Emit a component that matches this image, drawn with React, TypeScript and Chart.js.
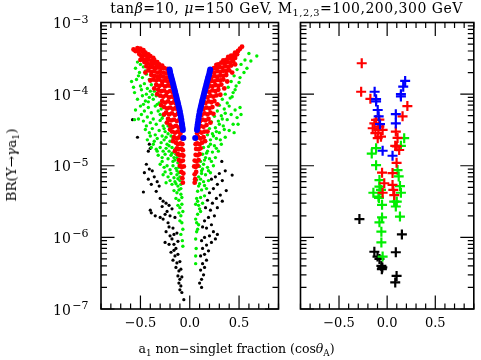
import React, { useEffect, useRef } from 'react';
import { Chart, registerables } from 'chart.js';
Chart.register(...registerables);

type P = [number, number];

// ---------- axis settings ----------
const X_MIN = -0.9;
const X_MAX = 0.9;
const Y_MIN = 1e-7;
const Y_MAX = 1e-3;
const xLabelTicks = [-0.5, 0, 0.5];
const xMinorTicks = [-0.9, -0.8, -0.7, -0.6, -0.5, -0.4, -0.3, -0.2, -0.1, 0, 0.1, 0.2, 0.3, 0.4, 0.5, 0.6, 0.7, 0.8, 0.9];
const yDecades = [1e-7, 1e-6, 1e-5, 1e-4, 1e-3];
const yDecadeExp = ['−7', '−6', '−5', '−4', '−3'];
const yMinorMult = [2, 3, 4, 5, 6, 7, 8, 9];

// ---------- left panel (scan points) ----------
const redLeft: P[] = [
  [-0.53, 4.4e-4], [-0.50, 4.3e-4], [-0.47, 4.1e-4],
  [-0.55, 4.0e-4], [-0.52, 3.9e-4], [-0.48, 3.9e-4], [-0.45, 3.8e-4], [-0.42, 3.6e-4],
  [-0.51, 3.6e-4], [-0.49, 3.4e-4], [-0.46, 3.5e-4], [-0.43, 3.3e-4], [-0.40, 3.4e-4], [-0.37, 3.2e-4],
  [-0.48, 3.1e-4], [-0.45, 3.0e-4], [-0.42, 3.1e-4], [-0.39, 2.9e-4], [-0.36, 3.0e-4], [-0.33, 2.8e-4],
  [-0.46, 2.8e-4], [-0.43, 2.7e-4], [-0.40, 2.6e-4], [-0.37, 2.7e-4], [-0.34, 2.6e-4], [-0.31, 2.6e-4], [-0.28, 2.5e-4],
  [-0.44, 2.45e-4], [-0.41, 2.35e-4], [-0.38, 2.4e-4], [-0.35, 2.3e-4], [-0.32, 2.35e-4], [-0.29, 2.3e-4], [-0.26, 2.3e-4], [-0.23, 2.25e-4],
  [-0.42, 2.15e-4], [-0.39, 2.05e-4], [-0.36, 2.1e-4], [-0.33, 2.0e-4], [-0.30, 2.05e-4], [-0.27, 2.0e-4], [-0.24, 1.95e-4], [-0.215, 2.0e-4],
  [-0.39, 1.85e-4], [-0.36, 1.8e-4], [-0.33, 1.75e-4], [-0.30, 1.8e-4], [-0.27, 1.75e-4], [-0.24, 1.7e-4], [-0.21, 1.72e-4],
  [-0.37, 1.6e-4], [-0.34, 1.55e-4], [-0.31, 1.6e-4], [-0.28, 1.5e-4], [-0.25, 1.55e-4], [-0.22, 1.5e-4], [-0.195, 1.5e-4],
  [-0.34, 1.35e-4], [-0.31, 1.3e-4], [-0.28, 1.35e-4], [-0.25, 1.28e-4], [-0.22, 1.32e-4], [-0.19, 1.3e-4], [-0.175, 1.25e-4],
  [-0.32, 1.15e-4], [-0.29, 1.1e-4], [-0.26, 1.12e-4], [-0.23, 1.06e-4], [-0.20, 1.1e-4], [-0.17, 1.05e-4],
  [-0.30, 9.5e-5], [-0.27, 9.2e-5], [-0.24, 9.6e-5], [-0.21, 9.0e-5], [-0.18, 9.2e-5], [-0.155, 8.8e-5],
  [-0.28, 8.0e-5], [-0.25, 7.6e-5], [-0.22, 7.9e-5], [-0.19, 7.5e-5], [-0.16, 7.7e-5], [-0.14, 7.4e-5],
  [-0.26, 6.6e-5], [-0.23, 6.3e-5], [-0.20, 6.5e-5], [-0.17, 6.2e-5], [-0.14, 6.4e-5], [-0.125, 6.1e-5],
  [-0.24, 5.5e-5], [-0.21, 5.2e-5], [-0.18, 5.4e-5], [-0.15, 5.1e-5], [-0.12, 5.3e-5],
  [-0.22, 4.5e-5], [-0.19, 4.3e-5], [-0.16, 4.4e-5], [-0.13, 4.2e-5], [-0.105, 4.4e-5],
  [-0.20, 3.7e-5], [-0.17, 3.5e-5], [-0.14, 3.6e-5], [-0.11, 3.4e-5], [-0.09, 3.6e-5],
  [-0.18, 3.0e-5], [-0.15, 2.9e-5], [-0.12, 3.0e-5], [-0.095, 2.8e-5],
  [-0.16, 2.5e-5], [-0.13, 2.4e-5], [-0.105, 2.5e-5], [-0.08, 2.4e-5],
  [-0.14, 2.1e-5], [-0.12, 2.0e-5], [-0.095, 2.05e-5], [-0.075, 2.0e-5],
  [-0.13, 1.75e-5], [-0.11, 1.7e-5], [-0.085, 1.72e-5], [-0.07, 1.65e-5],
  [-0.12, 1.45e-5], [-0.10, 1.4e-5], [-0.08, 1.42e-5], [-0.065, 1.38e-5],
  [-0.11, 1.2e-5], [-0.09, 1.15e-5], [-0.07, 1.18e-5],
  [-0.10, 1.0e-5], [-0.08, 9.6e-6], [-0.06, 9.8e-6],
  [-0.085, 8.2e-6], [-0.065, 7.8e-6],
  [-0.075, 6.7e-6], [-0.07, 5.8e-6],
  [-0.45, 2.0e-4], [-0.40, 1.55e-4], [-0.36, 1.2e-4], [-0.33, 1.0e-4], [-0.29, 7.0e-5], [-0.26, 5.2e-5],
  [-0.23, 4.0e-5], [-0.20, 3.2e-5], [-0.17, 2.2e-5], [-0.15, 1.6e-5], [-0.57, 4.2e-4], [-0.50, 3.0e-4],
];

const redRight: P[] = [
  [0.53, 4.6e-4], [0.51, 4.3e-4],
  [0.49, 4.0e-4], [0.46, 3.8e-4],
  [0.48, 3.6e-4], [0.45, 3.5e-4], [0.42, 3.45e-4], [0.39, 3.3e-4],
  [0.46, 3.2e-4], [0.43, 3.1e-4], [0.40, 3.15e-4], [0.37, 3.0e-4], [0.34, 2.95e-4],
  [0.44, 2.85e-4], [0.41, 2.75e-4], [0.38, 2.8e-4], [0.35, 2.7e-4], [0.32, 2.75e-4], [0.29, 2.6e-4], [0.27, 2.55e-4],
  [0.42, 2.5e-4], [0.39, 2.4e-4], [0.36, 2.45e-4], [0.33, 2.35e-4], [0.30, 2.4e-4], [0.27, 2.3e-4], [0.245, 2.3e-4],
  [0.40, 2.15e-4], [0.37, 2.1e-4], [0.34, 2.12e-4], [0.31, 2.05e-4], [0.28, 2.1e-4], [0.25, 2.0e-4], [0.225, 2.02e-4],
  [0.37, 1.85e-4], [0.34, 1.8e-4], [0.31, 1.82e-4], [0.28, 1.75e-4], [0.25, 1.78e-4], [0.22, 1.72e-4],
  [0.34, 1.6e-4], [0.31, 1.55e-4], [0.28, 1.58e-4], [0.25, 1.5e-4], [0.22, 1.53e-4], [0.20, 1.5e-4],
  [0.32, 1.36e-4], [0.29, 1.3e-4], [0.26, 1.34e-4], [0.23, 1.28e-4], [0.20, 1.31e-4], [0.185, 1.26e-4],
  [0.29, 1.15e-4], [0.26, 1.1e-4], [0.23, 1.13e-4], [0.20, 1.07e-4], [0.175, 1.1e-4],
  [0.27, 9.6e-5], [0.24, 9.2e-5], [0.21, 9.5e-5], [0.18, 9.0e-5], [0.16, 9.2e-5],
  [0.25, 8.0e-5], [0.22, 7.7e-5], [0.19, 7.9e-5], [0.16, 7.5e-5], [0.145, 7.7e-5],
  [0.23, 6.6e-5], [0.20, 6.3e-5], [0.17, 6.5e-5], [0.14, 6.2e-5], [0.13, 6.4e-5],
  [0.21, 5.5e-5], [0.18, 5.2e-5], [0.15, 5.4e-5], [0.12, 5.1e-5],
  [0.19, 4.5e-5], [0.16, 4.3e-5], [0.13, 4.4e-5], [0.105, 4.2e-5],
  [0.17, 3.7e-5], [0.14, 3.5e-5], [0.11, 3.6e-5], [0.09, 3.4e-5],
  [0.15, 3.0e-5], [0.12, 2.9e-5], [0.095, 3.0e-5], [0.075, 2.85e-5],
  [0.14, 2.5e-5], [0.11, 2.4e-5], [0.085, 2.5e-5], [0.065, 2.4e-5],
  [0.125, 2.1e-5], [0.10, 2.0e-5], [0.075, 2.05e-5], [0.06, 2.0e-5],
  [0.11, 1.75e-5], [0.09, 1.7e-5], [0.065, 1.72e-5],
  [0.10, 1.45e-5], [0.08, 1.4e-5], [0.06, 1.42e-5],
  [0.09, 1.2e-5], [0.07, 1.15e-5], [0.05, 1.18e-5],
  [0.08, 1.0e-5], [0.06, 9.6e-6], [0.045, 9.8e-6],
  [0.065, 8.2e-6], [0.05, 7.6e-6],
  [0.055, 6.5e-6], [0.05, 5.8e-6],
  [0.46, 2.6e-4], [0.43, 2.0e-4], [0.38, 1.5e-4], [0.35, 1.2e-4], [0.31, 9.8e-5], [0.28, 7.2e-5],
  [0.24, 5.3e-5], [0.21, 4.0e-5], [0.18, 3.0e-5], [0.155, 2.2e-5],
];

const blueLeft: P[] = [
  [-0.205, 2.2e-4], [-0.2, 2.05e-4], [-0.195, 1.9e-4], [-0.19, 1.78e-4], [-0.184, 1.66e-4], [-0.178, 1.55e-4],
  [-0.172, 1.44e-4], [-0.166, 1.34e-4], [-0.16, 1.24e-4], [-0.154, 1.15e-4], [-0.148, 1.07e-4], [-0.142, 9.9e-5],
  [-0.136, 9.2e-5], [-0.13, 8.5e-5], [-0.124, 7.9e-5], [-0.118, 7.3e-5], [-0.112, 6.7e-5], [-0.106, 6.2e-5],
  [-0.1, 5.7e-5], [-0.095, 5.2e-5], [-0.09, 4.8e-5], [-0.085, 4.4e-5], [-0.081, 4.0e-5], [-0.077, 3.7e-5],
  [-0.073, 3.4e-5], [-0.07, 3.15e-5], [-0.065, 2.45e-5],
];

const blueRight: P[] = [
  [0.207, 2.2e-4], [0.202, 2.05e-4], [0.197, 1.9e-4], [0.191, 1.78e-4], [0.185, 1.66e-4], [0.179, 1.55e-4],
  [0.173, 1.44e-4], [0.167, 1.34e-4], [0.161, 1.24e-4], [0.155, 1.15e-4], [0.149, 1.07e-4], [0.143, 9.9e-5],
  [0.137, 9.2e-5], [0.131, 8.5e-5], [0.125, 7.9e-5], [0.119, 7.3e-5], [0.113, 6.7e-5], [0.107, 6.2e-5],
  [0.101, 5.7e-5], [0.096, 5.2e-5], [0.091, 4.8e-5], [0.087, 4.4e-5], [0.083, 4.0e-5], [0.079, 3.7e-5],
  [0.076, 3.4e-5], [0.073, 3.15e-5], [0.055, 2.45e-5],
];

const greenLeft: P[] = [
  [-0.53, 2.8e-4], [-0.50, 2.6e-4], [-0.47, 2.4e-4], [-0.55, 2.3e-4], [-0.45, 2.1e-4], [-0.59, 1.5e-4],
  [-0.52, 1.8e-4], [-0.48, 1.7e-4], [-0.44, 1.9e-4], [-0.41, 1.6e-4], [-0.56, 1.05e-4], [-0.50, 1.3e-4],
  [-0.46, 1.4e-4], [-0.43, 1.2e-4], [-0.39, 1.35e-4], [-0.36, 1.1e-4], [-0.53, 8.5e-5], [-0.48, 9.5e-5],
  [-0.45, 8e-5], [-0.41, 9e-5], [-0.37, 8.5e-5], [-0.34, 9.5e-5], [-0.31, 7.5e-5], [-0.55, 6e-5],
  [-0.50, 6.8e-5], [-0.46, 5.8e-5], [-0.42, 6.5e-5], [-0.39, 5.5e-5], [-0.35, 6.8e-5], [-0.32, 5.8e-5],
  [-0.29, 6.2e-5], [-0.27, 5e-5],
  [-0.52, 4.5e-5], [-0.47, 4.2e-5], [-0.43, 4.8e-5], [-0.40, 4e-5], [-0.37, 4.5e-5], [-0.34, 3.8e-5],
  [-0.30, 4.3e-5], [-0.27, 3.6e-5], [-0.24, 4e-5], [-0.45, 3.2e-5], [-0.41, 2.9e-5], [-0.38, 3.3e-5],
  [-0.35, 2.7e-5], [-0.31, 3.1e-5], [-0.28, 2.6e-5], [-0.25, 3e-5], [-0.22, 2.8e-5], [-0.20, 3.4e-5],
  [-0.43, 2.3e-5], [-0.36, 2.2e-5], [-0.33, 2.4e-5], [-0.29, 2.1e-5], [-0.26, 2.3e-5], [-0.23, 2.0e-5],
  [-0.20, 2.2e-5], [-0.17, 2.4e-5], [-0.39, 1.8e-5], [-0.34, 1.7e-5], [-0.30, 1.8e-5], [-0.27, 1.6e-5],
  [-0.24, 1.75e-5], [-0.21, 1.6e-5], [-0.18, 1.8e-5], [-0.15, 1.7e-5], [-0.32, 1.4e-5], [-0.28, 1.3e-5],
  [-0.25, 1.45e-5], [-0.22, 1.25e-5], [-0.19, 1.4e-5], [-0.16, 1.3e-5], [-0.14, 1.45e-5],
  [-0.30, 1.05e-5], [-0.26, 9.5e-6], [-0.23, 1.0e-5], [-0.20, 8.8e-6], [-0.17, 1.0e-5], [-0.14, 9.2e-6],
  [-0.12, 1.1e-5], [-0.27, 7.5e-6], [-0.22, 7e-6], [-0.19, 7.8e-6], [-0.16, 6.8e-6], [-0.13, 7.5e-6],
  [-0.11, 8e-6], [-0.24, 5.8e-6], [-0.18, 5.5e-6], [-0.15, 6e-6], [-0.12, 5.2e-6], [-0.10, 6.2e-6],
  [-0.16, 4.5e-6], [-0.13, 4.2e-6], [-0.11, 4.6e-6], [-0.09, 4e-6], [-0.14, 3.5e-6], [-0.11, 3.3e-6],
  [-0.08, 3.6e-6], [-0.12, 2.8e-6], [-0.10, 2.6e-6], [-0.08, 2.9e-6], [-0.11, 2.2e-6], [-0.09, 2.0e-6],
  [-0.07, 2.3e-6], [-0.10, 1.7e-6], [-0.08, 1.6e-6], [-0.07, 1.3e-6], [-0.09, 1.1e-6], [-0.075, 9e-7],
  [-0.07, 7.5e-7],
  [-0.57, 1.25e-4], [-0.54, 1.6e-4], [-0.51, 2.0e-4], [-0.49, 1.15e-4], [-0.47, 7.2e-5], [-0.44, 1.0e-4],
  [-0.42, 7.8e-5], [-0.40, 1.1e-4], [-0.38, 9.8e-5], [-0.33, 7.2e-5], [-0.30, 5.2e-5], [-0.28, 4.6e-5],
  [-0.26, 3.3e-5], [-0.24, 2.5e-5], [-0.22, 3.6e-5], [-0.19, 2.6e-5], [-0.21, 1.9e-5], [-0.18, 1.5e-5],
  [-0.17, 1.15e-5], [-0.15, 1.2e-5], [-0.13, 1.3e-5], [-0.13, 8.5e-6], [-0.11, 9.5e-6], [-0.10, 7e-6],
  [-0.09, 5.5e-6], [-0.09, 4.8e-6], [-0.14, 5.6e-6], [-0.12, 6.6e-6], [-0.20, 6.2e-6], [-0.25, 8.2e-6],
  [-0.28, 1.15e-5], [-0.33, 1.6e-5], [-0.37, 2.0e-5], [-0.40, 2.6e-5], [-0.44, 3.6e-5], [-0.49, 5.2e-5],
  [-0.56, 4.4e-5],
];

const greenRight: P[] = [
  [0.68, 3.4e-4], [0.60, 3.7e-4], [0.56, 3.0e-4], [0.58, 2.3e-4], [0.52, 2.6e-4], [0.48, 2.2e-4],
  [0.45, 1.8e-4], [0.51, 1.7e-4], [0.42, 1.5e-4], [0.47, 1.3e-4], [0.39, 1.25e-4], [0.44, 1.05e-4],
  [0.36, 1.0e-4], [0.41, 8.8e-5], [0.33, 8.5e-5], [0.38, 7.5e-5], [0.30, 7e-5], [0.51, 6.5e-5],
  [0.46, 6e-5], [0.35, 6.2e-5], [0.28, 5.8e-5], [0.42, 5.2e-5], [0.48, 4.7e-5], [0.32, 5e-5],
  [0.25, 4.9e-5], [0.38, 4.4e-5], [0.29, 4.2e-5], [0.22, 4.1e-5], [0.44, 3.8e-5], [0.34, 3.6e-5],
  [0.26, 3.4e-5], [0.20, 3.3e-5], [0.40, 3.1e-5], [0.30, 2.9e-5], [0.23, 2.8e-5], [0.18, 2.7e-5],
  [0.36, 2.5e-5], [0.27, 2.4e-5], [0.21, 2.3e-5], [0.16, 2.2e-5], [0.32, 2.0e-5], [0.25, 1.9e-5],
  [0.19, 1.85e-5], [0.14, 1.8e-5], [0.29, 1.6e-5], [0.23, 1.55e-5], [0.17, 1.5e-5], [0.13, 1.45e-5],
  [0.26, 1.3e-5], [0.20, 1.25e-5], [0.15, 1.2e-5], [0.11, 1.15e-5],
  [0.24, 1.0e-5], [0.18, 9.5e-6], [0.13, 9e-6], [0.10, 9.8e-6], [0.21, 8e-6], [0.16, 7.5e-6],
  [0.12, 7.8e-6], [0.09, 7e-6], [0.19, 6.2e-6], [0.14, 6e-6], [0.10, 5.6e-6], [0.07, 6.3e-6],
  [0.17, 4.8e-6], [0.12, 4.6e-6], [0.08, 4.4e-6], [0.15, 3.8e-6], [0.11, 3.6e-6], [0.07, 3.5e-6],
  [0.13, 3.0e-6], [0.09, 2.8e-6], [0.06, 2.9e-6], [0.11, 2.3e-6], [0.08, 2.1e-6], [0.06, 1.8e-6],
  [0.09, 1.5e-6], [0.07, 1.2e-6], [0.06, 9.5e-7], [0.065, 7e-7], [0.06, 5.5e-7], [0.06, 4.3e-7],
  [0.62, 2.9e-4], [0.55, 2.0e-4], [0.50, 1.45e-4], [0.46, 1.15e-4], [0.43, 9.2e-5], [0.40, 6.8e-5],
  [0.36, 5.4e-5], [0.33, 4.5e-5], [0.30, 3.8e-5], [0.27, 3.0e-5], [0.24, 2.6e-5], [0.21, 2.0e-5],
  [0.18, 1.6e-5], [0.16, 1.3e-5], [0.14, 1.05e-5], [0.12, 8.5e-6], [0.11, 6.5e-6], [0.09, 5.2e-6],
  [0.08, 3.2e-6], [0.10, 2.5e-6], [0.07, 1.6e-6], [0.08, 1.3e-6], [0.22, 1.15e-5], [0.27, 1.75e-5],
  [0.31, 2.3e-5], [0.35, 3.2e-5], [0.52, 5.2e-5], [0.49, 3.8e-5], [0.45, 2.9e-5], [0.15, 5.3e-6],
  [0.19, 8.5e-6],
];

const blackLeft: P[] = [
  [-0.58, 4.4e-5], [-0.53, 2.5e-5], [-0.41, 2.0e-5], [-0.42, 1.6e-5], [-0.40, 1.75e-5],
  [-0.44, 1.05e-5], [-0.41, 9e-6], [-0.46, 8e-6], [-0.38, 8.5e-6], [-0.36, 7e-6], [-0.42, 6.5e-6],
  [-0.33, 6e-6], [-0.39, 5.5e-6], [-0.31, 5.2e-6], [-0.47, 4.3e-6],
  [-0.30, 3.5e-6], [-0.27, 3.2e-6], [-0.24, 3.0e-6], [-0.21, 2.8e-6], [-0.18, 2.5e-6], [-0.23, 2.3e-6],
  [-0.25, 2.1e-6], [-0.20, 2.0e-6], [-0.15, 1.9e-6], [-0.40, 2.4e-6], [-0.39, 2.2e-6], [-0.35, 2.0e-6],
  [-0.30, 1.9e-6], [-0.27, 1.8e-6],
  [-0.21, 1.4e-6], [-0.17, 1.35e-6], [-0.24, 1.2e-6], [-0.20, 1.05e-6], [-0.16, 1.1e-6], [-0.13, 1.15e-6],
  [-0.25, 8.5e-7], [-0.21, 8e-7], [-0.16, 8e-7], [-0.14, 7e-7], [-0.19, 6.2e-7], [-0.15, 5.5e-7],
  [-0.12, 5.8e-7], [-0.17, 4.8e-7], [-0.13, 4.4e-7], [-0.10, 4.6e-7], [-0.14, 3.8e-7], [-0.11, 3.4e-7],
  [-0.09, 3.6e-7], [-0.12, 2.9e-7], [-0.10, 2.6e-7], [-0.08, 2.8e-7], [-0.11, 2.3e-7], [-0.09, 2.1e-7],
  [-0.10, 1.85e-7], [-0.08, 1.7e-7], [-0.06, 1.35e-7],
  [-0.34, 4.4e-6], [-0.28, 2.7e-6], [-0.22, 1.6e-6], [-0.18, 9.5e-7], [-0.12, 8.8e-7], [-0.16, 6.6e-7],
];

const blackRight: P[] = [
  [0.325, 1.15e-5], [0.43, 7.4e-6], [0.36, 8.5e-6], [0.30, 7.8e-6], [0.26, 7e-6], [0.33, 6.2e-6],
  [0.22, 6.5e-6], [0.28, 5.5e-6], [0.37, 4.5e-6], [0.24, 4.8e-6], [0.31, 3.9e-6], [0.20, 4.2e-6],
  [0.27, 3.5e-6], [0.33, 3.2e-6], [0.23, 3.0e-6], [0.18, 3.3e-6], [0.28, 2.6e-6], [0.21, 2.4e-6],
  [0.16, 2.6e-6], [0.25, 2.0e-6], [0.19, 1.9e-6], [0.15, 1.7e-6], [0.22, 1.5e-6], [0.17, 1.35e-6],
  [0.13, 1.4e-6], [0.24, 1.2e-6], [0.28, 1.1e-6], [0.20, 1.05e-6], [0.15, 1.0e-6], [0.12, 9e-7],
  [0.26, 9.5e-7], [0.22, 8.5e-7], [0.17, 7.8e-7], [0.13, 7e-7], [0.19, 6.5e-7], [0.15, 5.8e-7],
  [0.11, 5.5e-7], [0.17, 4.8e-7], [0.13, 4.3e-7], [0.15, 3.8e-7], [0.11, 3.5e-7], [0.14, 3.0e-7],
  [0.12, 2.6e-7], [0.10, 2.3e-7], [0.12, 2.0e-7],
];

// ---------- right panel (benchmark points with crosses) ----------
const redPts: P[] = [
  [-0.264, 2.7e-4], [-0.27, 1.08e-4], [-0.174, 8.6e-5], [0.21, 6.8e-5], [0.16, 4.9e-5],
  [-0.115, 4.37e-5], [-0.081, 4.4e-5], [-0.133, 3.9e-5], [-0.15, 3.34e-5], [-0.081, 3.52e-5],
  [-0.092, 3.16e-5], [-0.047, 3.16e-5], [-0.122, 2.85e-5], [-0.064, 2.55e-5], [-0.098, 2.43e-5],
  [0.09, 3.0e-5], [0.108, 2.45e-5], [0.084, 1.9e-5], [0.1, 1.87e-5], [0.125, 1.66e-5], [0.098, 1.1e-5],
  [-0.053, 8.0e-6], [0.056, 7.9e-6], [-0.03, 5.7e-6], [0.056, 5.4e-6], [-0.047, 4.2e-6], [0.064, 4.6e-6],
  [0.074, 3.9e-6],
];
const bluePts: P[] = [
  [0.187, 1.53e-4], [0.167, 1.27e-4], [0.143, 1.0e-4], [0.143, 9.3e-5], [-0.13, 1.08e-4], [-0.115, 8.5e-5],
  [-0.115, 7.9e-5], [-0.098, 6.0e-5], [-0.088, 4.9e-5], [-0.074, 3.8e-5], [0.09, 5.25e-5], [0.09, 3.9e-5],
  [-0.047, 1.62e-5], [0.056, 1.38e-5],
];
const greenPts: P[] = [
  [0.177, 2.43e-5], [0.143, 1.9e-5], [-0.115, 1.76e-5], [-0.16, 1.48e-5], [-0.115, 1.02e-5], [0.108, 8.7e-6],
  [0.12, 7.1e-6], [-0.08, 6.3e-6], [-0.08, 5.1e-6], [0.133, 5.2e-6], [-0.143, 4.2e-6], [-0.09, 3.7e-6],
  [-0.085, 3.55e-6], [-0.064, 4.6e-6], [0.143, 4.2e-6], [0.073, 3.16e-6], [0.1, 3.16e-6], [-0.053, 2.85e-6],
  [0.09, 2.7e-6], [0.133, 1.95e-6], [-0.053, 1.9e-6], [-0.08, 1.62e-6], [-0.06, 1.2e-6], [-0.06, 8.5e-7],
  [-0.047, 5.4e-7],
];
const blackPts: P[] = [
  [-0.288, 1.8e-6], [0.153, 1.1e-6], [-0.133, 6.3e-7], [-0.1, 5.4e-7], [-0.08, 5.0e-7], [0.09, 6.2e-7],
  [-0.06, 4.0e-7], [-0.05, 3.8e-7], [-0.055, 3.6e-7], [0.098, 2.9e-7], [0.084, 2.35e-7],
];

const RED = '#ff0000';
const BLUE = '#0000ff';
const GREEN = '#00ee00';
const BLACK = '#000000';
const FONT = '"DejaVu Serif", serif';

const toXY = (arr: P[]) => arr.map(([x, y]) => ({ x, y }));

const framePlugin = (showYLabels: boolean) => ({
  id: 'frame' + (showYLabels ? 'L' : 'R'),
  afterDraw(chart: any) {
    const ctx = chart.ctx as CanvasRenderingContext2D;
    const { left, right, top, bottom } = chart.chartArea;
    const xs = chart.scales.x;
    const ys = chart.scales.y;
    ctx.save();
    ctx.strokeStyle = '#000';
    ctx.lineWidth = 1.2;
    ctx.beginPath();
    for (const v of xMinorTicks) {
      const px = xs.getPixelForValue(v);
      const len = xLabelTicks.includes(v) ? 13.5 : 5.5;
      ctx.moveTo(px, bottom);
      ctx.lineTo(px, bottom - len);
      ctx.moveTo(px, top);
      ctx.lineTo(px, top + len);
    }
    for (const d of yDecades) {
      const py = ys.getPixelForValue(d);
      ctx.moveTo(left, py);
      ctx.lineTo(left + 13.5, py);
      ctx.moveTo(right, py);
      ctx.lineTo(right - 13.5, py);
      for (const m of yMinorMult) {
        const v = d * m;
        if (v >= Y_MAX) continue;
        const pm = ys.getPixelForValue(v);
        ctx.moveTo(left, pm);
        ctx.lineTo(left + 6, pm);
        ctx.moveTo(right, pm);
        ctx.lineTo(right - 6, pm);
      }
    }
    ctx.stroke();
    ctx.lineWidth = 1.6;
    ctx.strokeRect(left, top, right - left, bottom - top);
    if (showYLabels) {
      ctx.fillStyle = '#000';
      ctx.textBaseline = 'alphabetic';
      ctx.textAlign = 'right';
      yDecades.forEach((d, i) => {
        const py = ys.getPixelForValue(d);
        const exp = yDecadeExp[i];
        ctx.font = '11px ' + FONT;
        const ew = ctx.measureText(exp).width;
        ctx.fillText(exp, 88.5, py);
        ctx.font = '14px ' + FONT;
        ctx.fillText('10', 88.5 - ew - 1.5, py + 5.5);
      });
    }
    ctx.restore();
  },
});

const fmtTick = (v: number) => (v === 0 ? '0.0' : (v < 0 ? '−' : '') + Math.abs(v).toFixed(1));

function makeConfig(datasets: any[], padding: any, showYLabels: boolean): any {
  return {
    type: 'scatter',
    data: { datasets },
    options: {
      animation: false,
      responsive: false,
      events: [],
      layout: { padding },
      plugins: { legend: { display: false }, tooltip: { enabled: false }, title: { display: false } },
      scales: {
        x: {
          type: 'linear',
          min: X_MIN,
          max: X_MAX,
          grid: { display: false, drawTicks: false },
          border: { display: false },
          afterBuildTicks: (s: any) => {
            s.ticks = xLabelTicks.map((v) => ({ value: v }));
          },
          afterFit: (s: any) => {
            s.height = 51;
          },
          ticks: {
            color: '#000',
            font: { family: FONT, size: 13 },
            padding: 7,
            maxRotation: 0,
            autoSkip: false,
            callback: (v: any) => fmtTick(Number(v)),
          },
        },
        y: { type: 'logarithmic', min: Y_MIN, max: Y_MAX, display: false },
      },
    },
    plugins: [framePlugin(showYLabels)],
  };
}

const dot = (data: P[], color: string, r: number, order: number, style = 'circle') => ({
  data: toXY(data),
  backgroundColor: color,
  borderColor: color,
  borderWidth: 0,
  pointRadius: r,
  pointStyle: style,
  order,
});

const cross = (data: P[], color: string, order: number) => ({
  data: toXY(data),
  backgroundColor: color,
  borderColor: color,
  borderWidth: 2.2,
  pointRadius: 5,
  pointStyle: 'cross',
  order,
});

export default function App() {
  const leftRef = useRef<HTMLCanvasElement>(null);
  const rightRef = useRef<HTMLCanvasElement>(null);

  useEffect(() => {
    const left = new Chart(
      leftRef.current as HTMLCanvasElement,
      makeConfig(
        [
          dot(blackLeft, BLACK, 1.6, 4),
          dot(blackRight, BLACK, 1.6, 4),
          dot(greenLeft, GREEN, 1.7, 3),
          dot(greenRight, GREEN, 1.7, 3),
          dot(redLeft, RED, 2.4, 2),
          dot(redRight, RED, 2.4, 2),
          dot(blueLeft, BLUE, 3, 1),
          dot(blueRight, BLUE, 3, 1),
        ],
        { left: 101, right: 11.5, top: 22.5, bottom: 0 },
        true
      )
    );
    const right = new Chart(
      rightRef.current as HTMLCanvasElement,
      makeConfig(
        [cross(blackPts, BLACK, 4), cross(greenPts, GREEN, 3), cross(redPts, RED, 2), cross(bluePts, BLUE, 1)],
        { left: 10.5, right: 6, top: 22.5, bottom: 0 },
        false
      )
    );
    return () => {
      left.destroy();
      right.destroy();
    };
  }, []);

  const sub: React.CSSProperties = { fontSize: '0.7em', position: 'relative', top: '0.3em', verticalAlign: 'baseline' };

  return (
    <div
      style={{
        position: 'absolute',
        left: 0,
        top: 0,
        width: 481,
        height: 360,
        background: '#fff',
        color: '#000',
        fontFamily: FONT,
        overflow: 'hidden',
      }}
    >
      <canvas ref={leftRef} width={290} height={360} style={{ position: 'absolute', left: 0, top: 0 }} />
      <canvas ref={rightRef} width={191} height={360} style={{ position: 'absolute', left: 290, top: 0 }} />
      <div
        style={{
          position: 'absolute',
          left: 286.5,
          top: 0,
          transform: 'translateX(-50%)',
          whiteSpace: 'nowrap',
          fontSize: 14,
          lineHeight: '16px',
          letterSpacing: 0.5,
        }}
      >
        tan<i>β</i>=10, <i>μ</i>=150 GeV, M<span style={sub}>1,2,3</span>=100,200,300 GeV
      </div>
      <div
        style={{
          position: 'absolute',
          left: 236.5,
          top: 341,
          transform: 'translateX(-50%)',
          whiteSpace: 'nowrap',
          fontSize: 12.5,
          lineHeight: '15px',
        }}
      >
        a<span style={sub}>1</span> non−singlet fraction (cos<i>θ</i>
        <span style={sub}>A</span>)
      </div>
      <div
        style={{
          position: 'absolute',
          left: 12,
          top: 165,
          transform: 'translate(-50%, -50%) rotate(-90deg)',
          whiteSpace: 'nowrap',
          fontSize: 13.5,
          lineHeight: '16px',
        }}
      >
        BR(Υ→<i>γ</i>a<span style={sub}>1</span>)
      </div>
    </div>
  );
}
